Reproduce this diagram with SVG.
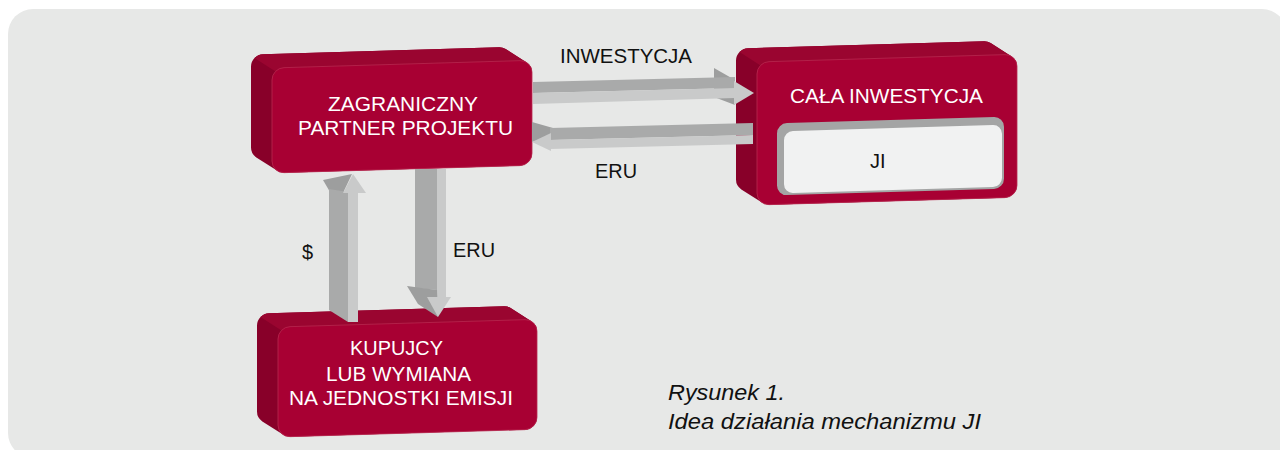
<svg xmlns="http://www.w3.org/2000/svg" width="1280" height="450" viewBox="0 0 1280 450">
<style>
.hull{fill:#880029}
.top{fill:#9a0530}
.front{fill:#a80033;stroke:#b8284f;stroke-width:0.8}
.wt{fill:#ffffff;font-family:"Liberation Sans",Arial,sans-serif;font-size:20.5px}
.bt{fill:#111111;font-family:"Liberation Sans",Arial,sans-serif;font-size:20px}
.cap{fill:#111111;font-family:"Liberation Sans",Arial,sans-serif;font-size:22px;font-style:italic}
.ad{fill:#a9aaaa}
.al{fill:#c9caca}
.ah{fill:#9d9e9e}
</style>
<rect x="0" y="0" width="1280" height="450" fill="#ffffff"/>
<rect x="8" y="9" width="1279" height="449" rx="25" fill="#e7e8e7"/>

<g id="node-zagraniczny">
<g transform="translate(272,68) skewY(-1.7)">
<path class="hull" d="M-9,-14 H227 A12,12 0 0 1 233.66,-11.98 L254.66,2.02 A12,12 0 0 1 260,12 V93 A12,12 0 0 1 248,105 H12 A12,12 0 0 1 5.34,102.98 L-15.66,88.98 A12,12 0 0 1 -21,79 V-2 A12,12 0 0 1 -9,-14 Z"/>
<path class="top" d="M-9,-14 H227 A12,12 0 0 1 233.66,-11.98 L254.66,2.02 A12,12 0 0 0 248,0 H12 L3.51,3.51 L-17.49,-10.49 A12,12 0 0 1 -9,-14 Z"/>
<rect class="front" x="0" y="0" width="260" height="105" rx="12"/>
</g>
<text class="wt" x="328" y="111" textLength="150" lengthAdjust="spacingAndGlyphs">ZAGRANICZNY</text>
<text class="wt" x="298" y="135" textLength="215" lengthAdjust="spacingAndGlyphs">PARTNER PROJEKTU</text>
</g>

<g id="node-cala-inwestycja">
<g transform="translate(757,62) skewY(-1.7)">
<path class="hull" d="M-9,-14 H227 A12,12 0 0 1 233.66,-11.98 L254.66,2.02 A12,12 0 0 1 260,12 V131 A12,12 0 0 1 248,143 H12 A12,12 0 0 1 5.34,140.98 L-15.66,126.98 A12,12 0 0 1 -21,117 V-2 A12,12 0 0 1 -9,-14 Z"/>
<path class="top" d="M-9,-14 H227 A12,12 0 0 1 233.66,-11.98 L254.66,2.02 A12,12 0 0 0 248,0 H12 L3.51,3.51 L-17.49,-10.49 A12,12 0 0 1 -9,-14 Z"/>
<rect class="front" x="0" y="0" width="260" height="143" rx="12"/>
</g>
<text class="wt" x="790" y="103" textLength="193" lengthAdjust="spacingAndGlyphs">CAŁA INWESTYCJA</text>
</g>

<g id="node-ji">
<g transform="translate(757,62) skewY(-1.7)">
<rect x="20" y="62" width="227" height="72" rx="10" fill="#a4a5a5"/>
<rect x="27" y="70" width="218" height="62" rx="9" fill="#f1f2f2"/>
</g>
<text class="bt" x="870" y="168">JI</text>
</g>

<g id="node-kupujacy">
<g transform="translate(278,327) skewY(-1.7)">
<path class="hull" d="M-9,-14 H226 A12,12 0 0 1 232.66,-11.98 L253.66,2.02 A12,12 0 0 1 259,12 V98 A12,12 0 0 1 247,110 H12 A12,12 0 0 1 5.34,107.98 L-15.66,93.98 A12,12 0 0 1 -21,84 V-2 A12,12 0 0 1 -9,-14 Z"/>
<path class="top" d="M-9,-14 H226 A12,12 0 0 1 232.66,-11.98 L253.66,2.02 A12,12 0 0 0 247,0 H12 L3.51,3.51 L-17.49,-10.49 A12,12 0 0 1 -9,-14 Z"/>
<rect class="front" x="0" y="0" width="259" height="110" rx="12"/>
</g>
<text class="wt" x="350" y="355" textLength="93" lengthAdjust="spacingAndGlyphs">KUPUJCY</text>
<text class="wt" x="326" y="381" textLength="145" lengthAdjust="spacingAndGlyphs">LUB WYMIANA</text>
<text class="wt" x="289" y="405" textLength="224" lengthAdjust="spacingAndGlyphs">NA JEDNOSTKI EMISJI</text>
</g>

<g id="connectors">
<g id="arrow-inwestycja">
<polygon class="ah" points="714,68 735,80 735,105 714,97"/>
<polygon class="ad" points="533,82 735,77 735,88 533,93"/>
<polygon class="al" points="533,93 735,88 735,98 533,104"/>
<polygon class="al" points="734,81 754,93 734,105"/>
</g>
<g id="arrow-eru-left">
<polygon class="ah" points="532,122 553,128 551,136 532,142"/>
<polygon class="ad" points="550,128 753,123 753,135 550,140"/>
<polygon class="al" points="550,140 753,135 753,144 550,149"/>
<polygon class="al" points="532,142 551,133 551,151"/>
</g>
<g id="arrow-dollar-up">
<polygon class="ah" points="323,180 352,174 343,193 330,192"/>
<polygon class="ad" points="329,189 348,192 348,322 329,310"/>
<polygon class="al" points="348,193 358,193 358,322 348,322"/>
<polygon class="al" points="353,174 366,193 343,193"/>
</g>
<g id="arrow-eru-down">
<polygon class="ad" points="415,169 437,169 437,290 415,288"/>
<polygon class="al" points="437,169 446,169 446,297 437,297"/>
<polygon class="ah" points="407,286 437,290 438,317 418,304"/>
<polygon class="al" points="427,297 451,297 438,317"/>
</g>
</g>

<g id="labels">
<text class="bt" x="560" y="63" textLength="132" lengthAdjust="spacingAndGlyphs">INWESTYCJA</text>
<text class="bt" x="595" y="178" textLength="42" lengthAdjust="spacingAndGlyphs">ERU</text>
<text class="bt" x="302" y="259">$</text>
<text class="bt" x="453" y="257" textLength="42" lengthAdjust="spacingAndGlyphs">ERU</text>
</g>

<g id="caption">
<text class="cap" x="668" y="400" textLength="117" lengthAdjust="spacingAndGlyphs">Rysunek 1.</text>
<text class="cap" x="668" y="429" textLength="313" lengthAdjust="spacingAndGlyphs">Idea działania mechanizmu JI</text>
</g>
</svg>
